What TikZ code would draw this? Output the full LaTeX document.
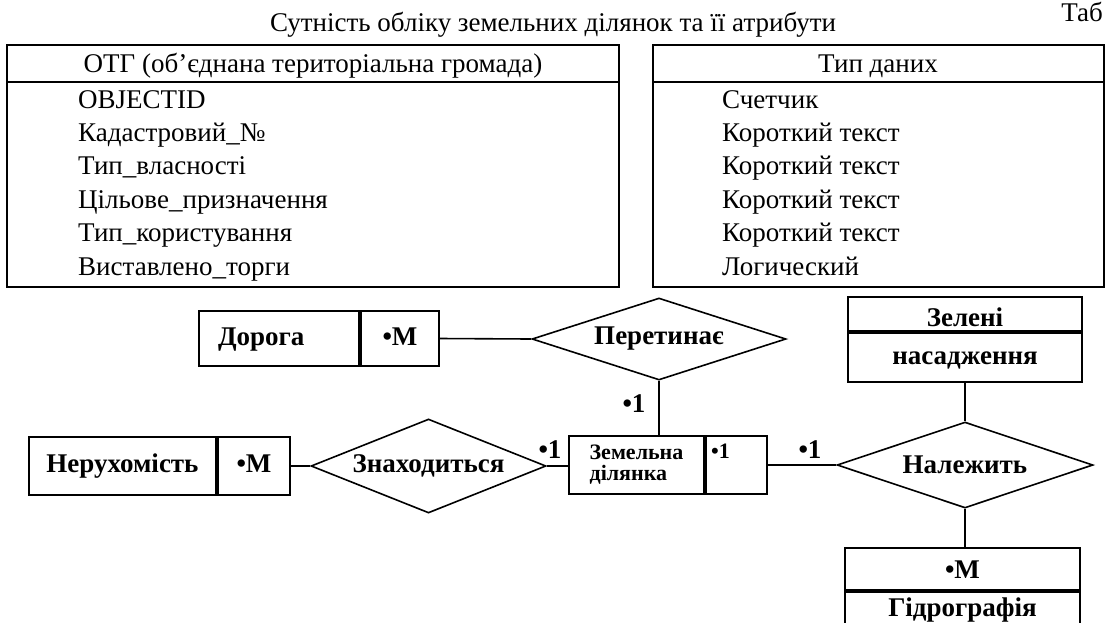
\documentclass[tikz,border=0pt]{standalone}
\usepackage{fontspec}
\setmainfont{Liberation Serif}
\usetikzlibrary{positioning,shapes.geometric}

\newcommand{\tabfont}{\fontsize{27}{30}\selectfont}
\newcommand{\erfont}{\fontsize{27}{30}\selectfont\bfseries}
\newcommand{\smallerfont}{\fontsize{22}{21}\selectfont\bfseries}

\tikzset{
  tabline/.style={line width=2pt},
  txt/.style={font=\tabfont, inner sep=0pt},
  cell/.style={draw, line width=2pt, inner sep=0pt, font=\erfont},
  relation/.style={draw, diamond, line width=1.6pt, inner sep=0pt, font=\erfont},
  link/.style={line width=1.6pt},
  card/.style={font=\erfont, inner sep=0pt},
}

\begin{document}
\begin{tikzpicture}[x=1pt,y=-1pt]
  \clip (0,0) rectangle (1107,622);
  % table of attributes
  \node[txt, anchor=base east] (tabno) at (1103,21) {Таб};
  \node[txt, anchor=base] (title) at (553,31) {Сутність обліку земельних ділянок та її атрибути};
  \draw[tabline] (7,45) rectangle (619,287);
  \draw[tabline] (7,82) -- (619,82);
  \draw[tabline] (653,45) rectangle (1104,287);
  \draw[tabline] (653,82) -- (1104,82);
  \node[txt, anchor=base] (head1) at (313,72) {ОТГ (об’єднана територіальна громада)};
  \node[txt, anchor=base] (head2) at (878,72) {Тип даних};
  \foreach \i/\a/\t in {0/OBJECTID/Счетчик,
                         1/Кадастровий\_№/Короткий текст,
                         2/Тип\_власності/Короткий текст,
                         3/Цільове\_призначення/Короткий текст,
                         4/Тип\_користування/Короткий текст,
                         5/Виставлено\_торги/Логический} {
    \node[txt, anchor=base west] (attr\i) at (78,108+33.4*\i) {\a};
    \node[txt, anchor=base west] (type\i) at (722,108+33.4*\i) {\t};
  }

  % ER diagram
  \node[cell, minimum width=160pt, minimum height=55pt, inner xsep=19pt, text width=122pt, align=left, text height=19pt, text depth=6pt] (road) at (279,338.5) {Дорога};
  \node[cell, minimum width=78pt, minimum height=55pt, text height=19pt, text depth=6pt, right=0pt of road] (roadm) {•M};
  \node[relation, aspect=3.1, minimum width=254pt, minimum height=82pt] (cross) at (659,339) {Перетинає};

  \node[cell, minimum width=187pt, minimum height=58pt, text height=19pt, text depth=6pt] (estate) at (122.5,466) {Нерухомість};
  \node[cell, minimum width=72pt, minimum height=58pt, text height=19pt, text depth=6pt, right=0pt of estate] (estatem) {•M};
  \node[relation, aspect=2.5, minimum width=235pt, minimum height=94pt] (located) at (428.5,466) {Знаходиться};

  \node[cell, minimum width=135pt, minimum height=58pt, align=left, font=\smallerfont] (land) at (636.5,465) {Земельна\\ділянка};
  \node[cell, minimum width=61pt, minimum height=58pt, right=0pt of land,
        label={[font=\smallerfont, anchor=north west, inner sep=0pt, xshift=6pt, yshift=-9pt]north west:•1}] (landm) {};

  \node[relation, aspect=3, minimum width=256pt, minimum height=86pt] (belongs) at (965,465) {Належить};

  \node[cell, minimum width=234pt, inner ysep=0pt, text height=29pt, text depth=5pt] (green) at (965,314) {Зелені};
  \node[cell, minimum width=234pt, inner ysep=0pt, text height=31pt, text depth=18pt, below=0pt of green] (green2) {насадження};

  \node[cell, minimum width=235pt, inner ysep=0pt, text height=30pt, text depth=12pt] (hydro) at (962.5,569) {•M};
  \node[cell, minimum width=235pt, inner ysep=0pt, text height=24pt, text depth=24pt, below=0pt of hydro] (hydro2) {Гідрографія};

  \draw[link] (roadm.east) -- (cross.west);
  \draw[link] (cross.south) -- (cross.south |- land.north);
  \draw[link] (estatem.east) -- (located.west);
  \draw[link] (located.east) -- (located.east -| land.west);
  \draw[link] (landm.east) -- (belongs.west);
  \draw[link] (green2.south) -- (belongs.north);
  \draw[link] (belongs.south) -- (belongs.south |- hydro.north);

  \node[card] (c1) at (634,404) {•1};
  \node[card] (c2) at (550,450) {•1};
  \node[card] (c3) at (810,450) {•1};
\end{tikzpicture}
\end{document}
